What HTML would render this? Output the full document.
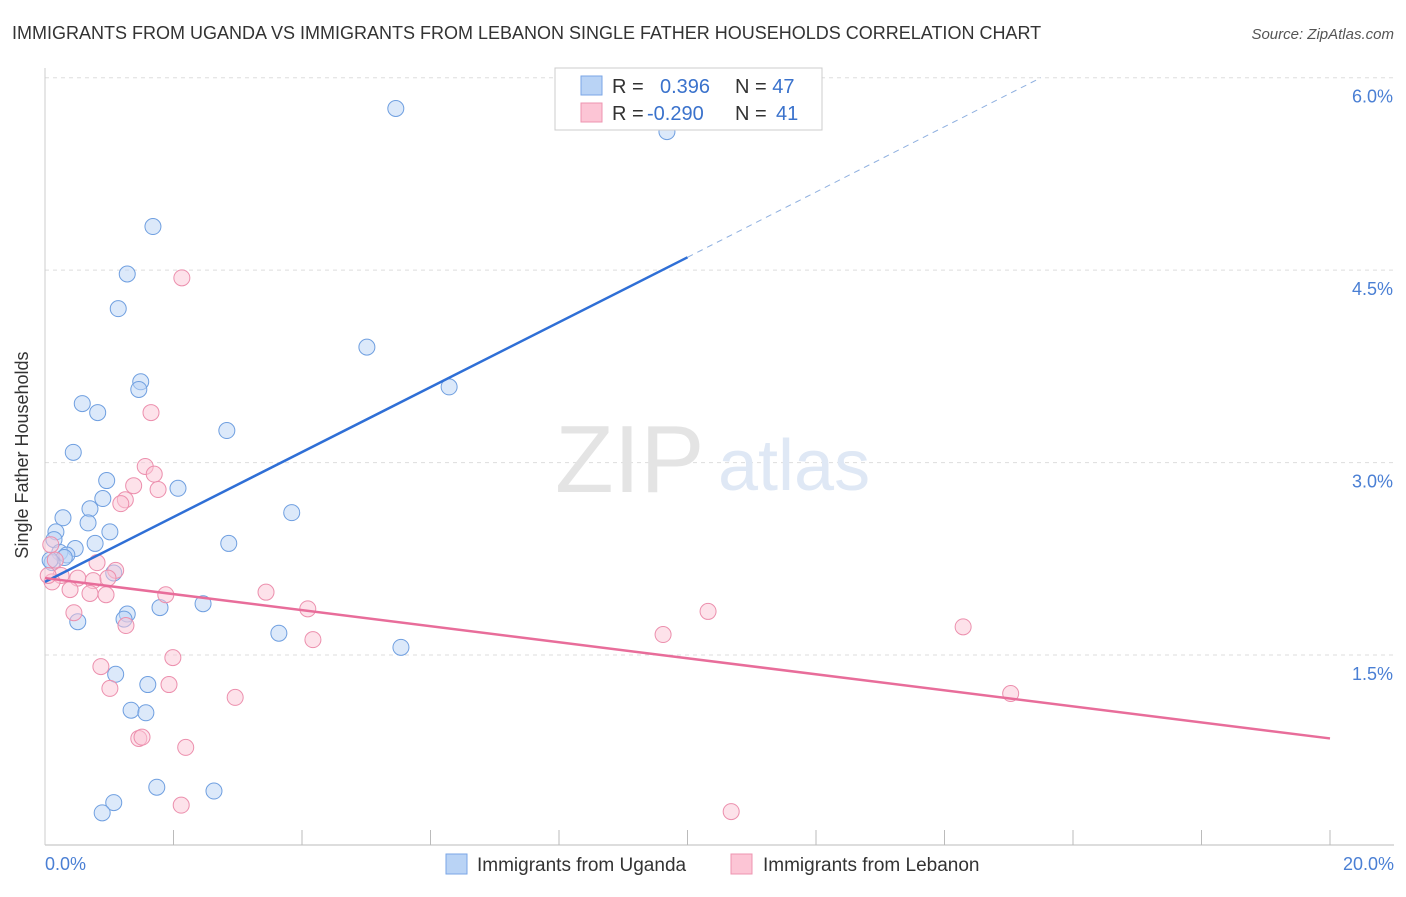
<!DOCTYPE html>
<html><head><meta charset="utf-8"><style>
body{margin:0;background:#fff;font-family:"Liberation Sans",sans-serif}
svg text{font-family:"Liberation Sans",sans-serif}
</style></head><body>
<svg id="c" width="1406" height="892" xmlns="http://www.w3.org/2000/svg">
<text x="12" y="39" font-size="18" fill="#333">IMMIGRANTS FROM UGANDA VS IMMIGRANTS FROM LEBANON SINGLE FATHER HOUSEHOLDS CORRELATION CHART</text>
<text x="1394" y="39" font-size="15" fill="#555" text-anchor="end" font-style="italic">Source: ZipAtlas.com</text>
<g id="grid"></g>
<text x="555" y="492" font-size="96" fill="#e4e4e4" font-family="Liberation Serif">ZIP</text>
<text x="718" y="490" font-size="72" fill="#dfe8f5">atlas</text>
<g id="marks"></g>
<text x="28" y="455" font-size="18" fill="#333" text-anchor="middle" transform="rotate(-90 28 455)">Single Father Households</text>
<g>
<rect x="555" y="68" width="267" height="62" fill="#fff" stroke="#ccc"/>
<rect x="581" y="76" width="21" height="19" fill="#b9d3f5" stroke="#7aa6e6"/>
<rect x="581" y="103" width="21" height="19" fill="#fcc5d5" stroke="#ee94b0"/>
<text x="612" y="93" font-size="20" fill="#333">R = <tspan x="660" fill="#3a72cc">0.396</tspan></text>
<text x="735" y="93" font-size="20" fill="#333">N = <tspan fill="#3a72cc">47</tspan></text>
<text x="612" y="120" font-size="20" fill="#333">R = <tspan x="647" fill="#3a72cc">-0.290</tspan></text>
<text x="735" y="120" font-size="20" fill="#333">N = <tspan x="776" fill="#3a72cc">41</tspan></text>
</g>
<g>
<rect x="446" y="854" width="21" height="20" fill="#b9d3f5" stroke="#7aa6e6"/>
<text x="477" y="871" font-size="19" fill="#333">Immigrants from Uganda</text>
<rect x="731" y="854" width="21" height="20" fill="#fcc5d5" stroke="#ee94b0"/>
<text x="763" y="871" font-size="19" fill="#333">Immigrants from Lebanon</text>
</g>
</svg>
<script>
const yTicks=[1.5,3.0,4.5,6.0];
const yTickLabels=["1.5%","3.0%","4.5%","6.0%"];
const xTickLabels=["0.0%","20.0%"];
const ugandaX=[5.46,9.68,1.68,1.28,1.14,5.01,1.49,1.46,6.29,0.58,0.82,2.83,0.44,0.96,2.07,0.90,0.70,0.28,0.67,3.84,1.01,0.17,0.14,0.78,2.86,0.47,0.23,0.34,0.30,0.11,1.07,1.28,1.23,1.79,2.46,0.51,3.64,5.54,1.10,1.60,1.34,1.57,1.74,2.63,1.07,0.89,0.08];
const ugandaY=[5.76,5.58,4.84,4.47,4.20,3.90,3.63,3.57,3.59,3.46,3.39,3.25,3.08,2.86,2.80,2.72,2.64,2.57,2.53,2.61,2.46,2.46,2.40,2.37,2.37,2.33,2.30,2.28,2.26,2.22,2.14,1.82,1.78,1.87,1.90,1.76,1.67,1.56,1.35,1.27,1.07,1.05,0.47,0.44,0.35,0.27,2.24];
const lebanonX=[2.13,1.65,1.56,1.70,1.76,1.25,1.18,1.38,0.09,0.16,0.81,1.10,0.25,0.11,0.51,0.75,0.98,0.39,0.70,0.95,1.88,3.44,4.09,0.45,1.26,4.17,10.32,9.62,14.29,0.87,1.99,1.01,1.93,2.96,1.46,1.51,2.19,2.12,10.68,15.03,0.05];
const lebanonY=[4.44,3.39,2.97,2.91,2.79,2.71,2.68,2.82,2.36,2.24,2.22,2.16,2.12,2.07,2.10,2.08,2.10,2.01,1.98,1.97,1.97,1.99,1.86,1.83,1.73,1.62,1.84,1.66,1.72,1.41,1.48,1.24,1.27,1.17,0.85,0.86,0.78,0.33,0.28,1.20,2.12];
const ugandaTrend=[[0,2.07],[10,4.60]];
const ugandaTrendExt=[[10,4.60],[15.5,6.0]];
const lebanonTrend=[[0,2.10],[20,0.85]];

const NS="http://www.w3.org/2000/svg";
const X=v=>45+v/20*1285, Y=v=>847.5-v*128.3;
function mk(t,a,p){const e=document.createElementNS(NS,t);for(const k in a)e.setAttribute(k,a[k]);p.appendChild(e);return e;}
const grid=document.getElementById('grid'), marks=document.getElementById('marks');
yTicks.forEach((t,i)=>{
  let l=mk('line',{x1:45,x2:1394,y1:Y(t),y2:Y(t),stroke:'#ddd','stroke-dasharray':'4,4'},grid);
  
  
  let tx=mk('text',{x:1393,y:Y(t)+25,'font-size':18,fill:'#4a7fd4','text-anchor':'end'},grid);tx.textContent=yTickLabels[i];
  
  
});
let ax=mk('line',{x1:45,x2:1394,y1:845,y2:845,stroke:'#bbb'},grid);


let ay=mk('line',{x1:45,x2:45,y1:68,y2:845,stroke:'#ccc'},grid);


for(let i=1;i<=10;i++){let t=mk('line',{x1:X(i*2),x2:X(i*2),y1:830,y2:845,stroke:'#bbb'},grid);
  
  }
[[0,'start',45],[20,'end',1394]].forEach((d,i)=>{let t=mk('text',{x:d[2],y:870,'font-size':18,fill:'#4a7fd4','text-anchor':d[1]},grid);t.textContent=xTickLabels[i];
  
  });
function pts(xs,ys,fill,stroke,name){xs.forEach((x,i)=>{let c=mk('circle',{cx:X(x),cy:Y(ys[i]),r:8,fill:fill,'fill-opacity':0.5,stroke:stroke,'stroke-width':1},marks);
  
  });}
pts(ugandaX,ugandaY,'#b9d3f5','#6f9fe0','uganda-point');
pts(lebanonX,lebanonY,'#fcc5d5','#ec8fad','lebanon-point');
function line(p,col,w,dash,name){let l=mk('line',{x1:X(p[0][0]),y1:Y(p[0][1]),x2:X(p[1][0]),y2:Y(p[1][1]),stroke:col,'stroke-width':w},marks);if(dash)l.setAttribute('stroke-dasharray',dash);
  
  }
line(ugandaTrend,'#2f6fd6',2.5,null,'uganda-trend-line');
line(ugandaTrendExt,'#8fb0e0',1,'6,5','uganda-trend-extension');
line(lebanonTrend,'#e86d9a',2.5,null,'lebanon-trend-line');
</script>
</body></html>
